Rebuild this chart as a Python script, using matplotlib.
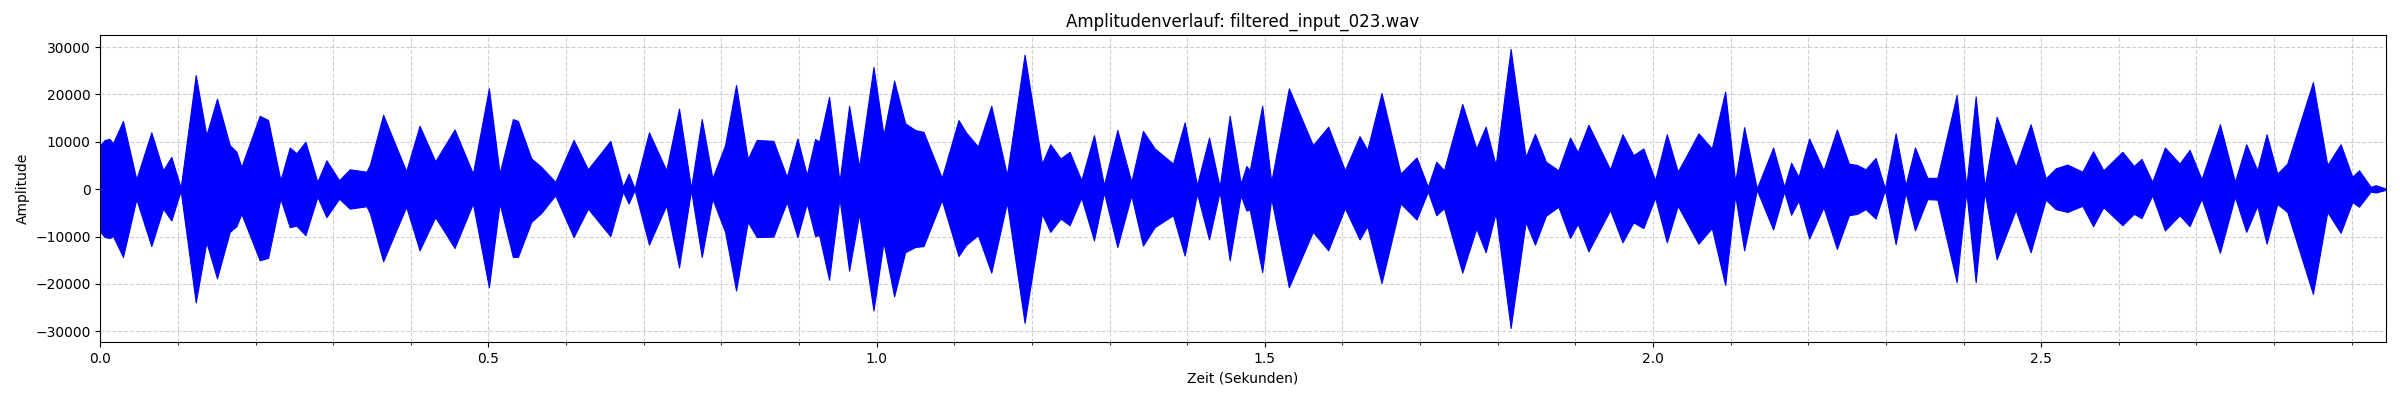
import numpy as np
import matplotlib
matplotlib.use('Agg')
import matplotlib.pyplot as plt
from matplotlib.ticker import MultipleLocator

# Hüllkurve des Signals: Zeit in Sekunden, obere und untere Amplitude
zeit = [
    0.0000, 0.0056, 0.0120, 0.0163, 0.0292, 0.0464, 0.0657, 0.0808, 0.0915, 0.1035,
    0.1229, 0.1366, 0.1503, 0.1667, 0.1753, 0.1817, 0.2053, 0.2161, 0.2320, 0.2440,
    0.2526, 0.2642, 0.2796, 0.2912, 0.3076, 0.3213, 0.3428, 0.3471, 0.3643, 0.3940,
    0.4112, 0.4314, 0.4563, 0.4799, 0.5005, 0.5143, 0.5314, 0.5379, 0.5551, 0.5680,
    0.5860, 0.6096, 0.6281, 0.6569, 0.6732, 0.6805, 0.6882, 0.7067, 0.7290, 0.7454,
    0.7609, 0.7747, 0.7884, 0.8047, 0.8189, 0.8339, 0.8455, 0.8670, 0.8842, 0.8979,
    0.9100, 0.9207, 0.9259, 0.9387, 0.9521, 0.9645, 0.9774, 0.9959, 1.0088, 1.0225,
    1.0367, 1.0496, 1.0603, 1.0839, 1.1054, 1.1150, 1.1304, 1.1476, 1.1678, 1.1905,
    1.2129, 1.2236, 1.2369, 1.2485, 1.2636, 1.2799, 1.2928, 1.3100, 1.3280, 1.3430,
    1.3581, 1.3817, 1.3967, 1.4126, 1.4281, 1.4418, 1.4547, 1.4689, 1.4762, 1.4805,
    1.4966, 1.5082, 1.5309, 1.5619, 1.5816, 1.6031, 1.6220, 1.6319, 1.6503, 1.6748,
    1.6954, 1.7100, 1.7208, 1.7307, 1.7543, 1.7723, 1.7844, 1.7973, 1.8166, 1.8359,
    1.8479, 1.8620, 1.8781, 1.8931, 1.9030, 1.9168, 1.9447, 1.9606, 1.9747, 1.9876,
    2.0027, 2.0177, 2.0319, 2.0435, 2.0585, 2.0757, 2.0929, 2.1058, 2.1174, 2.1337,
    2.1547, 2.1689, 2.1779, 2.1874, 2.2011, 2.2196, 2.2368, 2.2523, 2.2631, 2.2738,
    2.2867, 2.2987, 2.3125, 2.3253, 2.3374, 2.3533, 2.3662, 2.3911, 2.4035, 2.4156,
    2.4271, 2.4426, 2.4671, 2.4864, 2.5058, 2.5186, 2.5337, 2.5530, 2.5668, 2.5801,
    2.6046, 2.6193, 2.6292, 2.6430, 2.6593, 2.6782, 2.6911, 2.7065, 2.7302, 2.7495,
    2.7641, 2.7783, 2.7903, 2.8040, 2.8169, 2.8500, 2.8685, 2.8857, 2.9007, 2.9093,
    2.9243, 2.9308, 2.9436,
]

oben = [
    9300, 10400, 10600, 9700, 14400, 2100, 12000, 4000, 6800, 300,
    24100, 11400, 19100, 9300, 7900, 4700, 15500, 14600, 1900, 8800,
    7600, 10000, 1550, 6100, 1900, 4200, 3700, 5100, 15700, 3800,
    13400, 5900, 12600, 3300, 21300, 3300, 14800, 14400, 6500, 4700,
    1550, 10400, 4200, 10200, 500, 3300, 150, 12000, 4000, 17000,
    200, 14800, 2300, 9300, 22000, 6400, 10400, 10200, 2600, 10700,
    3000, 10600, 10000, 19500, 1550, 17600, 4700, 25800, 11400, 22900,
    13900, 12500, 12100, 2400, 14600, 12000, 9000, 17600, 3000, 28400,
    5400, 9500, 6500, 7900, 1900, 11400, 850, 12500, 1550, 12300,
    8600, 5400, 14100, 850, 10900, 500, 15500, 1200, 4900, 4000,
    17600, 1550, 21300, 9300, 13200, 4000, 11200, 8300, 20300, 3300,
    6700, 500, 5800, 4000, 18000, 8600, 13200, 5100, 29600, 6800,
    11700, 5800, 4000, 10900, 7800, 13600, 4200, 11600, 7200, 8600,
    1900, 11600, 3700, 7200, 11800, 8600, 20600, 1550, 13100, 150,
    8800, 500, 5600, 2600, 10700, 4000, 12600, 5400, 5100, 4200,
    6600, 150, 11800, 850, 8800, 2400, 2400, 19900, 500, 19600,
    500, 15300, 4700, 13700, 2300, 4400, 5200, 3700, 8000, 4000,
    7900, 4900, 6400, 1550, 8800, 5400, 8300, 2100, 13700, 1550,
    9500, 4000, 11600, 3300, 5400, 22600, 5100, 9500, 2600, 4000,
    500, 850, 150,
]

unten = [
    -9000, -10100, -10300, -9900, -14300, -2100, -12000, -4100, -6600, -300,
    -23900, -11200, -18800, -9000, -7800, -5200, -15000, -14500, -2000, -8000,
    -7700, -9700, -1600, -5900, -2000, -4100, -3600, -5000, -15200, -3700,
    -12900, -5900, -12400, -3000, -20700, -3000, -14300, -14300, -6900, -5000,
    -1300, -10100, -4100, -9900, -500, -3000, -150, -11700, -3400, -16500,
    -200, -14300, -2000, -9000, -21400, -6900, -10100, -10000, -2700, -10100,
    -3000, -9900, -9700, -19100, -1900, -17200, -5200, -25600, -11200, -22600,
    -13300, -12200, -12000, -2300, -14100, -11800, -9700, -17600, -2800, -28200,
    -5200, -9000, -6200, -7600, -1800, -10800, -700, -12200, -1300, -11900,
    -8000, -5500, -14000, -900, -10600, -500, -15000, -1300, -4500, -4300,
    -17500, -1900, -20700, -9000, -12900, -4000, -10600, -7800, -19800, -3000,
    -6400, -500, -5500, -4000, -17600, -8300, -13300, -5000, -29300, -6900,
    -11700, -5600, -3700, -10300, -7300, -13100, -4400, -11200, -7000, -8200,
    -1800, -11200, -3500, -7000, -11500, -8200, -20200, -1300, -12900, -150,
    -8500, -500, -5400, -2400, -10400, -3800, -12600, -5500, -5200, -4200,
    -6200, -150, -11600, -700, -8700, -2100, -2200, -19600, -500, -19600,
    -500, -14800, -4400, -13300, -2200, -4200, -4800, -3500, -7800, -3800,
    -7600, -5200, -6100, -1300, -8700, -5500, -7800, -2000, -13400, -1600,
    -9000, -3500, -11500, -3100, -4800, -22100, -4800, -9200, -2700, -3700,
    -500, -700, -150,
]

dateiname = 'filtered_input_023.wav'


def main():
    t = np.array(zeit)

    fig, ax = plt.subplots(figsize=(24, 4), dpi=100)
    plt.subplots_adjust(left=0.0418, right=0.994, top=0.9125, bottom=0.145)

    # Signal als gefüllte Fläche zwischen unterer und oberer Hüllkurve
    ax.fill_between(t, unten, oben, color='blue', edgecolor='blue', linewidth=0.8)

    ax.set_xlim(t[0], t[-1])
    ax.xaxis.set_major_locator(MultipleLocator(0.5))
    ax.xaxis.set_minor_locator(MultipleLocator(0.1))

    ax.set_title(f'Amplitudenverlauf: {dateiname}')
    ax.set_xlabel('Zeit (Sekunden)')
    ax.set_ylabel('Amplitude')
    ax.grid(True, which='both', linestyle='--', alpha=0.6)
    ax.set_axisbelow(True)

    plt.savefig('out.png')


if __name__ == "__main__":
    main()
